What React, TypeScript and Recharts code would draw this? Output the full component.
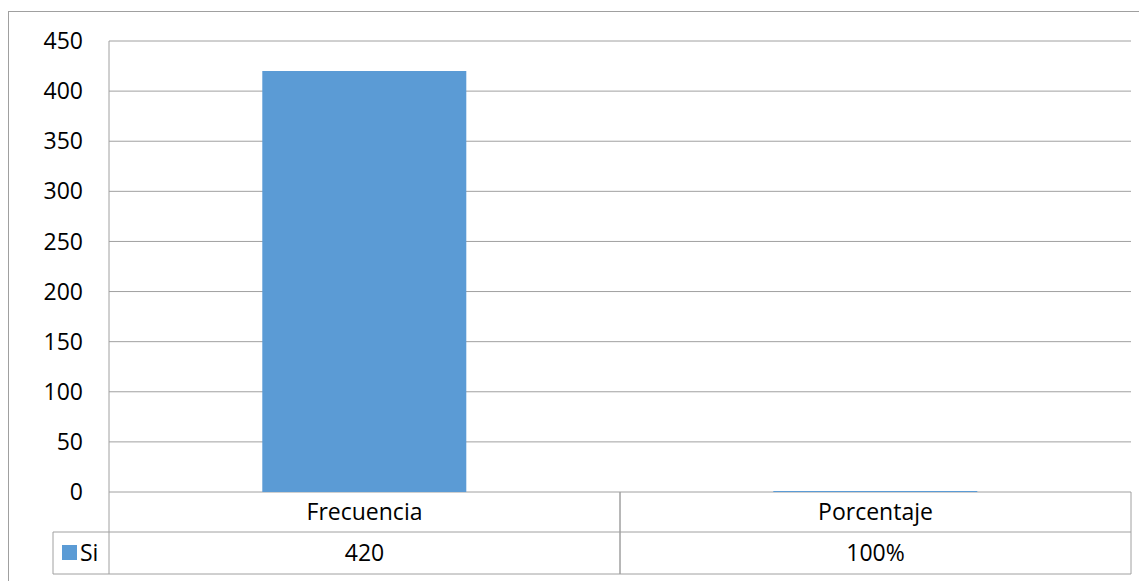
import React from "react";
import { BarChart, Bar, XAxis, YAxis, CartesianGrid } from "recharts";

const categories = ["Frecuencia", "Porcentaje"];
const siValues = [420, 1];
const siLabels = ["420", "100%"];
const seriesName = "Si";
const yTicks = [0, 50, 100, 150, 200, 250, 300, 350, 400, 450];

const data = categories.map((c, i) => ({ name: c, value: siValues[i], label: siLabels[i] }));

const FONT = "'Open Sans', 'Liberation Sans', sans-serif";
const FS = 23;
const LINE = "#a0a0a0";
const BAR = "#5B9BD5";
const ROW1 = 40;
const ROW2 = 42;

const TableTick = (props: any) => {
  const { x, y, payload, index } = props;
  const half = payload && payload.offset ? payload.offset : 255.5;
  const left = x - half;
  const right = x + half;
  const row = data[index] || data.find((d) => d.name === payload.value);
  return (
    <g>
      <line x1={left} y1={y} x2={left} y2={y + ROW1 + ROW2} stroke={LINE} />
      <line x1={right} y1={y} x2={right} y2={y + ROW1 + ROW2} stroke={LINE} />
      <line x1={left} y1={y + ROW1} x2={right} y2={y + ROW1} stroke={LINE} />
      <line x1={left} y1={y + ROW1 + ROW2} x2={right} y2={y + ROW1 + ROW2} stroke={LINE} />
      <text x={x} y={y + ROW1 / 2} dy="0.36em" textAnchor="middle" fontFamily={FONT} fontSize={FS} fill="#000">
        {payload.value}
      </text>
      <text x={x} y={y + ROW1 + ROW2 / 2} dy="0.36em" textAnchor="middle" fontFamily={FONT} fontSize={FS} fill="#000">
        {row ? row.label : ""}
      </text>
      {index === 0 && (
        <g>
          <line x1={left - 56} y1={y + ROW1} x2={left} y2={y + ROW1} stroke={LINE} />
          <line x1={left - 56} y1={y + ROW1 + ROW2} x2={left} y2={y + ROW1 + ROW2} stroke={LINE} />
          <line x1={left - 56} y1={y + ROW1} x2={left - 56} y2={y + ROW1 + ROW2} stroke={LINE} />
          <rect x={left - 47} y={y + ROW1 + 13} width={15} height={15} fill={BAR} />
          <text x={left - 29} y={y + ROW1 + ROW2 / 2} dy="0.36em" textAnchor="start" fontFamily={FONT} fontSize={FS} fill="#000">
            {seriesName}
          </text>
        </g>
      )}
    </g>
  );
};

export default function App() {
  return (
    <div style={{ position: "relative", width: 1139, height: 573, overflow: "hidden", background: "#fff" }}>
      <div
        style={{
          position: "absolute",
          left: 0,
          top: 3,
          width: 1300,
          height: 700,
          border: `1px solid ${LINE}`,
          boxSizing: "border-box",
        }}
      />
      <div style={{ position: "absolute", left: 0, top: 0 }}>
        <BarChart
          width={1139}
          height={573}
          data={data}
          margin={{ top: 33, right: 16, bottom: 6, left: 0 }}
          barCategoryGap="30%"
        >
          <CartesianGrid vertical={false} stroke={LINE} strokeDasharray="" />
          <YAxis
            type="number"
            domain={[0, 450]}
            ticks={yTicks}
            width={101}
            axisLine={{ stroke: LINE }}
            tickLine={false}
            tickSize={0}
            tickMargin={26}
            interval={0}
            tick={{ fontFamily: FONT, fontSize: FS, fill: "#000" }}
          />
          <XAxis
            dataKey="name"
            height={83}
            axisLine={false}
            tickLine={false}
            tickSize={0}
            tickMargin={0}
            interval={0}
            tick={<TableTick />}
          />
          <Bar dataKey="value" fill={BAR} isAnimationActive={false} />
        </BarChart>
      </div>
    </div>
  );
}
